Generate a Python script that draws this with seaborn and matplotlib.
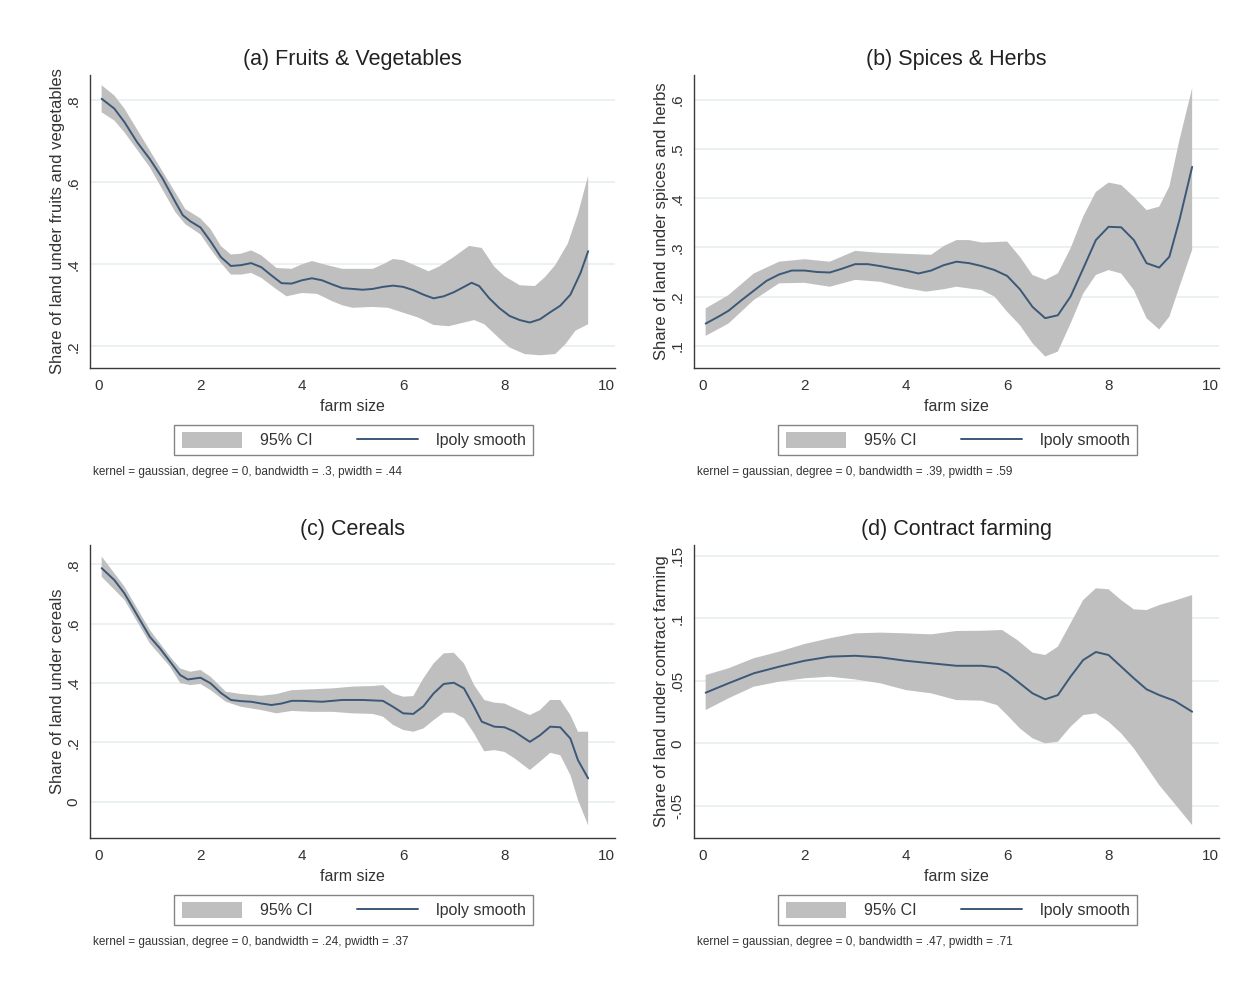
import numpy as np
import pandas as pd
import matplotlib
matplotlib.use("Agg")
import matplotlib.pyplot as plt
from matplotlib.patches import Patch
from matplotlib.lines import Line2D
import seaborn as sns

# ---------------- data ----------------
titles = ["(a) Fruits & Vegetables", "(b) Spices & Herbs", "(c) Cereals", "(d) Contract farming"]
ylabels = ["Share of land under fruits and vegetables",
           "Share of land under spices and herbs",
           "Share of land under cereals",
           "Share of land under contract farming"]
notes = ["kernel = gaussian, degree = 0, bandwidth = .3, pwidth = .44",
         "kernel = gaussian, degree = 0, bandwidth = .39, pwidth = .59",
         "kernel = gaussian, degree = 0, bandwidth = .24, pwidth = .37",
         "kernel = gaussian, degree = 0, bandwidth = .47, pwidth = .71"]
x_ticks = [0, 2, 4, 6, 8, 10]
x_ticklabels = ["0", "2", "4", "6", "8", "10"]
a_yticks = [0.2, 0.4, 0.6, 0.8]
a_yticklabels = [".2", ".4", ".6", ".8"]
b_yticks = [0.1, 0.2, 0.3, 0.4, 0.5, 0.6]
b_yticklabels = [".1", ".2", ".3", ".4", ".5", ".6"]
c_yticks = [0.0, 0.2, 0.4, 0.6, 0.8]
c_yticklabels = ["0", ".2", ".4", ".6", ".8"]
d_yticks = [-0.05, 0.0, 0.05, 0.1, 0.15]
d_yticklabels = ["-.05", "0", ".05", ".1", ".15"]

# (a) Fruits & Vegetables
a_x = [0.05, 0.3, 0.5, 0.75, 1.0, 1.25, 1.5, 1.65, 1.8, 2.0, 2.2, 2.4, 2.6, 2.8, 3.0, 3.2, 3.4, 3.6, 3.8, 4.0,
       4.2, 4.4, 4.6, 4.8, 5.0, 5.2, 5.4, 5.6, 5.8, 6.0, 6.2, 6.4, 6.6, 6.8, 7.0, 7.2, 7.35, 7.5, 7.7, 7.9,
       8.1, 8.3, 8.5, 8.7, 8.9, 9.1, 9.3, 9.5, 9.65]
a_y = [0.804, 0.78, 0.747, 0.698, 0.657, 0.61, 0.553, 0.52, 0.505, 0.49, 0.456, 0.418, 0.396, 0.398, 0.403,
       0.393, 0.373, 0.354, 0.353, 0.361, 0.366, 0.361, 0.351, 0.342, 0.34, 0.338, 0.34, 0.345, 0.348, 0.345,
       0.337, 0.326, 0.317, 0.322, 0.332, 0.345, 0.355, 0.347, 0.317, 0.293, 0.274, 0.264, 0.258, 0.266, 0.283,
       0.299, 0.326, 0.379, 0.432]
a_up_x = [0.05, 0.3, 0.5, 1.0, 1.5, 1.7, 2.0, 2.2, 2.4, 2.6, 2.8, 3.0, 3.2, 3.5, 3.8, 4.0, 4.2, 4.5, 4.8, 5.0,
          5.4, 5.6, 5.8, 6.0, 6.3, 6.5, 6.7, 7.0, 7.3, 7.55, 7.8, 8.0, 8.3, 8.6, 8.8, 9.0, 9.25, 9.45, 9.65]
a_up = [0.837, 0.812, 0.78, 0.678, 0.576, 0.535, 0.512, 0.486, 0.445, 0.424, 0.426, 0.434, 0.422, 0.391, 0.389,
        0.4, 0.408, 0.398, 0.389, 0.389, 0.389, 0.4, 0.413, 0.41, 0.394, 0.383, 0.394, 0.418, 0.445, 0.44,
        0.394, 0.371, 0.349, 0.347, 0.369, 0.398, 0.451, 0.524, 0.616]
a_lo_x = [0.05, 0.3, 0.5, 1.0, 1.5, 1.7, 2.0, 2.2, 2.4, 2.6, 2.8, 3.0, 3.2, 3.5, 3.7, 4.0, 4.3, 4.6, 4.8, 5.0,
          5.4, 5.7, 6.0, 6.3, 6.6, 6.9, 7.2, 7.4, 7.6, 7.9, 8.1, 8.4, 8.7, 9.0, 9.2, 9.4, 9.65]
a_lo = [0.771, 0.751, 0.722, 0.637, 0.528, 0.498, 0.473, 0.437, 0.404, 0.375, 0.375, 0.379, 0.367, 0.339, 0.322,
        0.33, 0.328, 0.31, 0.3, 0.294, 0.296, 0.294, 0.282, 0.27, 0.252, 0.249, 0.258, 0.264, 0.254, 0.219,
        0.197, 0.181, 0.178, 0.181, 0.205, 0.238, 0.254]

# (b) Spices & Herbs
b_x = [0.05, 0.3, 0.5, 0.75, 1.0, 1.25, 1.5, 1.75, 2.0, 2.25, 2.5, 2.75, 3.0, 3.25, 3.5, 3.75, 4.0, 4.25, 4.5, 4.75,
       5.0, 5.25, 5.5, 5.75, 6.0, 6.25, 6.5, 6.75, 7.0, 7.25, 7.5, 7.75, 8.0, 8.25, 8.5, 8.75, 9.0, 9.2, 9.4, 9.65]
b_y = [0.145, 0.159, 0.171, 0.192, 0.212, 0.232, 0.245, 0.253, 0.253, 0.25, 0.249, 0.257, 0.266, 0.266, 0.262,
       0.257, 0.253, 0.247, 0.253, 0.264, 0.271, 0.268, 0.262, 0.254, 0.242, 0.215, 0.179, 0.156, 0.162, 0.2,
       0.257, 0.315, 0.342, 0.341, 0.315, 0.268, 0.259, 0.281, 0.356, 0.464]
b_up_x = [0.05, 0.5, 1.0, 1.5, 2.0, 2.5, 3.0, 3.5, 4.0, 4.5, 4.75, 5.0, 5.25, 5.5, 6.0, 6.25, 6.5, 6.75, 7.0, 7.25,
          7.5, 7.75, 8.0, 8.25, 8.5, 8.75, 9.0, 9.2, 9.4, 9.65]
b_up = [0.176, 0.203, 0.247, 0.271, 0.276, 0.271, 0.293, 0.289, 0.287, 0.285, 0.303, 0.315, 0.315, 0.31, 0.312,
        0.281, 0.244, 0.234, 0.247, 0.298, 0.363, 0.413, 0.432, 0.427, 0.403, 0.376, 0.383, 0.424, 0.519, 0.624]
b_lo_x = [0.05, 0.5, 1.0, 1.5, 2.0, 2.5, 3.0, 3.5, 4.0, 4.4, 4.75, 5.0, 5.5, 5.75, 6.0, 6.25, 6.5, 6.75, 7.0, 7.25,
          7.5, 7.75, 8.0, 8.25, 8.5, 8.75, 9.0, 9.2, 9.4, 9.65]
b_lo = [0.12, 0.145, 0.193, 0.227, 0.228, 0.22, 0.234, 0.23, 0.217, 0.21, 0.215, 0.22, 0.213, 0.2, 0.169,
        0.142, 0.105, 0.078, 0.088, 0.145, 0.206, 0.244, 0.254, 0.247, 0.213, 0.156, 0.133, 0.159, 0.22, 0.295]

# (c) Cereals
c_x = [0.05, 0.3, 0.5, 0.75, 1.0, 1.2, 1.4, 1.6, 1.75, 2.0, 2.2, 2.4, 2.6, 2.8, 3.0, 3.2, 3.4, 3.6, 3.8, 4.0,
       4.4, 4.8, 5.2, 5.6, 5.8, 6.0, 6.2, 6.4, 6.6, 6.8, 7.0, 7.2, 7.4, 7.55, 7.8, 8.0, 8.2, 8.4, 8.5, 8.7,
       8.9, 9.1, 9.3, 9.45, 9.65]
c_y = [0.787, 0.747, 0.702, 0.629, 0.556, 0.517, 0.472, 0.427, 0.412, 0.418, 0.399, 0.367, 0.343, 0.339, 0.337,
       0.331, 0.326, 0.331, 0.34, 0.34, 0.337, 0.343, 0.343, 0.34, 0.32, 0.298, 0.296, 0.322, 0.365, 0.397,
       0.401, 0.382, 0.32, 0.27, 0.253, 0.251, 0.236, 0.213, 0.202, 0.224, 0.253, 0.251, 0.213, 0.14, 0.079]
c_band_x = [0.05, 0.5, 1.0, 1.4, 1.6, 1.8, 2.0, 2.2, 2.5, 2.8, 3.2, 3.5, 3.8, 4.2, 4.6, 5.0, 5.4, 5.6, 5.8, 6.0,
            6.2, 6.4, 6.6, 6.8, 7.0, 7.2, 7.4, 7.6, 7.8, 8.0, 8.2, 8.5, 8.7, 8.9, 9.1, 9.3, 9.45, 9.65]
c_up = [0.826, 0.725, 0.579, 0.489, 0.449, 0.438, 0.444, 0.421, 0.371, 0.363, 0.357, 0.363, 0.376, 0.379, 0.382,
        0.388, 0.39, 0.393, 0.365, 0.354, 0.356, 0.416, 0.466, 0.5, 0.502, 0.466, 0.393, 0.343, 0.334, 0.331,
        0.315, 0.292, 0.309, 0.343, 0.343, 0.292, 0.236, 0.236]
c_lo = [0.758, 0.68, 0.534, 0.455, 0.4, 0.393, 0.397, 0.376, 0.337, 0.32, 0.309, 0.298, 0.306, 0.303, 0.303,
        0.298, 0.296, 0.287, 0.259, 0.242, 0.236, 0.247, 0.275, 0.3, 0.3, 0.281, 0.23, 0.17, 0.174, 0.168,
        0.146, 0.107, 0.135, 0.165, 0.157, 0.09, 0.006, -0.079]

# (d) Contract farming
d_x = [0.05, 0.5, 1.0, 1.5, 2.0, 2.5, 3.0, 3.5, 4.0, 4.5, 5.0, 5.5, 5.8, 6.0, 6.25, 6.5, 6.75, 7.0, 7.25, 7.5,
       7.75, 8.0, 8.25, 8.5, 8.75, 9.0, 9.3, 9.65]
d_y = [0.0405, 0.048, 0.056, 0.0613, 0.066, 0.0693, 0.07, 0.0687, 0.066, 0.064, 0.062, 0.062, 0.0607, 0.056,
       0.048, 0.04, 0.0352, 0.0386, 0.0533, 0.0666, 0.073, 0.0706, 0.0613, 0.052, 0.0432, 0.0386, 0.0341, 0.0253]
d_up_x = [0.05, 0.5, 1.0, 1.5, 2.0, 2.5, 3.0, 3.5, 4.0, 4.5, 5.0, 5.5, 5.9, 6.2, 6.5, 6.75, 7.0, 7.25, 7.5, 7.75,
          8.0, 8.25, 8.5, 8.75, 9.0, 9.3, 9.65]
d_up = [0.0546, 0.06, 0.068, 0.0733, 0.0794, 0.084, 0.0879, 0.0885, 0.0879, 0.0871, 0.0898, 0.09, 0.0906, 0.0826,
        0.0725, 0.0706, 0.0773, 0.0959, 0.1145, 0.1239, 0.1231, 0.1145, 0.1071, 0.1065, 0.1105, 0.114, 0.1185]
d_lo_x = [0.05, 0.5, 1.0, 1.5, 2.0, 2.5, 3.0, 3.5, 4.0, 4.5, 5.0, 5.5, 5.8, 6.0, 6.25, 6.5, 6.75, 7.0, 7.25, 7.5,
          7.75, 8.0, 8.25, 8.5, 8.75, 9.0, 9.3, 9.65]
d_lo = [0.0266, 0.036, 0.0453, 0.0493, 0.052, 0.0533, 0.0511, 0.048, 0.0426, 0.04, 0.0346, 0.0341, 0.0306, 0.0226,
        0.012, 0.004, 0.0, 0.0013, 0.0133, 0.0226, 0.024, 0.0173, 0.008, -0.004, -0.0186, -0.0333, -0.048, -0.0653]

# ---------------- styling ----------------
sns.set_style("white")
plt.rcParams["font.family"] = ["Liberation Sans", "DejaVu Sans"]

W, H = 1243, 985
fig = plt.figure(figsize=(W / 100, H / 100), dpi=100)
fig.patch.set_facecolor("white")

LINE_C = "#3b5877"
BAND_C = "#bfbfbf"
GRID_C = "#e7eff1"
TXT_C = "#222222"

panels = [
    dict(x=a_x, y=a_y, ux=a_up_x, uy=a_up, lx=a_lo_x, ly=a_lo, yt=a_yticks, ytl=a_yticklabels,
         ylim=(0.147, 0.862), box=(90, 75, 615, 368)),
    dict(x=b_x, y=b_y, ux=b_up_x, uy=b_up, lx=b_lo_x, ly=b_lo, yt=b_yticks, ytl=b_yticklabels,
         ylim=(0.0546, 0.651), box=(694, 75, 1219, 368)),
    dict(x=c_x, y=c_y, ux=c_band_x, uy=c_up, lx=c_band_x, ly=c_lo, yt=c_yticks, ytl=c_yticklabels,
         ylim=(-0.122, 0.865), box=(90, 545, 615, 838)),
    dict(x=d_x, y=d_y, ux=d_up_x, uy=d_up, lx=d_lo_x, ly=d_lo, yt=d_yticks, ytl=d_yticklabels,
         ylim=(-0.0756, 0.1585), box=(694, 545, 1219, 838)),
]

for i, p in enumerate(panels):
    l, t, r, b = p["box"]
    ax = fig.add_axes([l / W, 1 - b / H, (r - l) / W, (b - t) / H])
    ax.set_facecolor("white")

    # confidence band polygon
    poly_x = list(p["ux"]) + list(p["lx"])[::-1]
    poly_y = list(p["uy"]) + list(p["ly"])[::-1]
    ax.fill(poly_x, poly_y, color=BAND_C, lw=0, zorder=2)

    df = pd.DataFrame({"farm size": p["x"], "share": p["y"]})
    sns.lineplot(data=df, x="farm size", y="share", ax=ax, color=LINE_C, lw=1.4, zorder=3)

    ax.set_xlim(-0.18, 10.18)
    ax.set_ylim(*p["ylim"])
    ax.set_xticks(x_ticks)
    ax.set_xticklabels(x_ticklabels)
    ax.set_yticks(p["yt"])
    ax.set_yticklabels(p["ytl"], rotation=90, va="center", ha="right")

    ax.yaxis.grid(True, color=GRID_C, lw=1.2, zorder=0)
    ax.xaxis.grid(False)
    ax.set_axisbelow(True)
    for s in ["top", "right"]:
        ax.spines[s].set_visible(False)
    for s in ["left", "bottom"]:
        ax.spines[s].set_color("#3a3a3a")
        ax.spines[s].set_linewidth(1.0)
    ax.tick_params(axis="both", which="major", length=4, width=0.9, color="#3a3a3a",
                   labelsize=11, labelcolor="#333333", direction="out")
    ax.tick_params(axis="x", pad=4)
    ax.tick_params(axis="y", pad=3)

    ax.set_xlabel("farm size", fontsize=11.5, color="#333333")
    ax.xaxis.set_label_coords(0.5, -0.105)
    ax.set_ylabel(ylabels[i], fontsize=12, color="#333333")
    ax.yaxis.set_label_coords(-0.047, 0.5)

    cx = (l + r) / 2
    fig.text(cx / W, 1 - (t - 15) / H, titles[i], ha="center", va="center",
             fontsize=15.5, color=TXT_C)

    handles = [Patch(facecolor=BAND_C, edgecolor="none"),
               Line2D([0], [0], color=LINE_C, lw=1.4)]
    leg = ax.legend(handles, ["95% CI", "lpoly smooth"], loc="center",
                    bbox_to_anchor=((cx + 1) / W, 1 - (b + 72) / H),
                    bbox_transform=fig.transFigure, ncol=2, frameon=True,
                    fancybox=False, edgecolor="#666666", fontsize=11.5,
                    handlelength=3.8, handleheight=1.2, handletextpad=1.1,
                    columnspacing=2.8, borderpad=0.45)
    leg.get_frame().set_linewidth(1.0)
    for txt in leg.get_texts():
        txt.set_color("#333333")

    fig.text((l + 3) / W, 1 - (b + 104) / H, notes[i], ha="left", va="center",
             fontsize=8.5, color="#333333")

fig.savefig("out.png", dpi=100, facecolor="white")
